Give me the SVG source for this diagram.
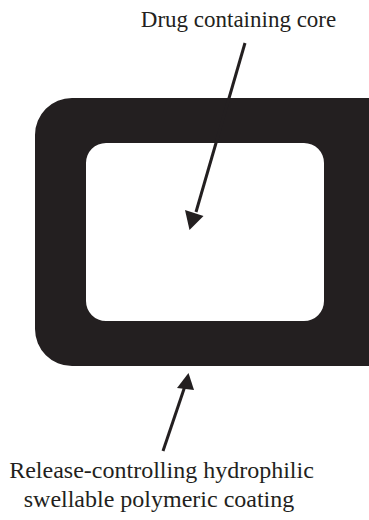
<svg xmlns="http://www.w3.org/2000/svg" width="369" height="520" viewBox="0 0 369 520">
<style>
.t{font-family:'Liberation Serif','Times New Roman',Times,serif;font-size:23px;fill:#231f20;text-anchor:middle}
.b{font-size:24px}
.ar{stroke:#231f20;stroke-width:3;fill:none}
</style>
<rect width="369" height="520" fill="#fff"/>
<g id="coating">
<path fill="#231f20" fill-rule="evenodd" d="M72,98 H369 V366 H72 A37,37 0 0 1 35,329 V135 A37,37 0 0 1 72,98 Z M106,143 H304 A20,20 0 0 1 324,163 V301 A20,20 0 0 1 304,321 H106 A20,20 0 0 1 86,301 V163 A20,20 0 0 1 106,143 Z"/>
</g>
<g id="label-core">
<text class="t" x="238.5" y="27">Drug containing core</text>
</g>
<g id="label-coating">
<text class="t b" x="161.5" y="478">Release-controlling hydrophilic</text>
<text class="t b" x="159" y="507">swellable polymeric coating</text>
</g>
<g id="connectors">
<line class="ar" x1="245" y1="43" x2="196" y2="212"/>
<polygon fill="#231f20" points="189.5,230 185,210 203.5,216"/>
<line class="ar" x1="163" y1="451" x2="185" y2="386"/>
<polygon fill="#231f20" points="188.5,373 177,388 194,390"/>
</g>
</svg>
